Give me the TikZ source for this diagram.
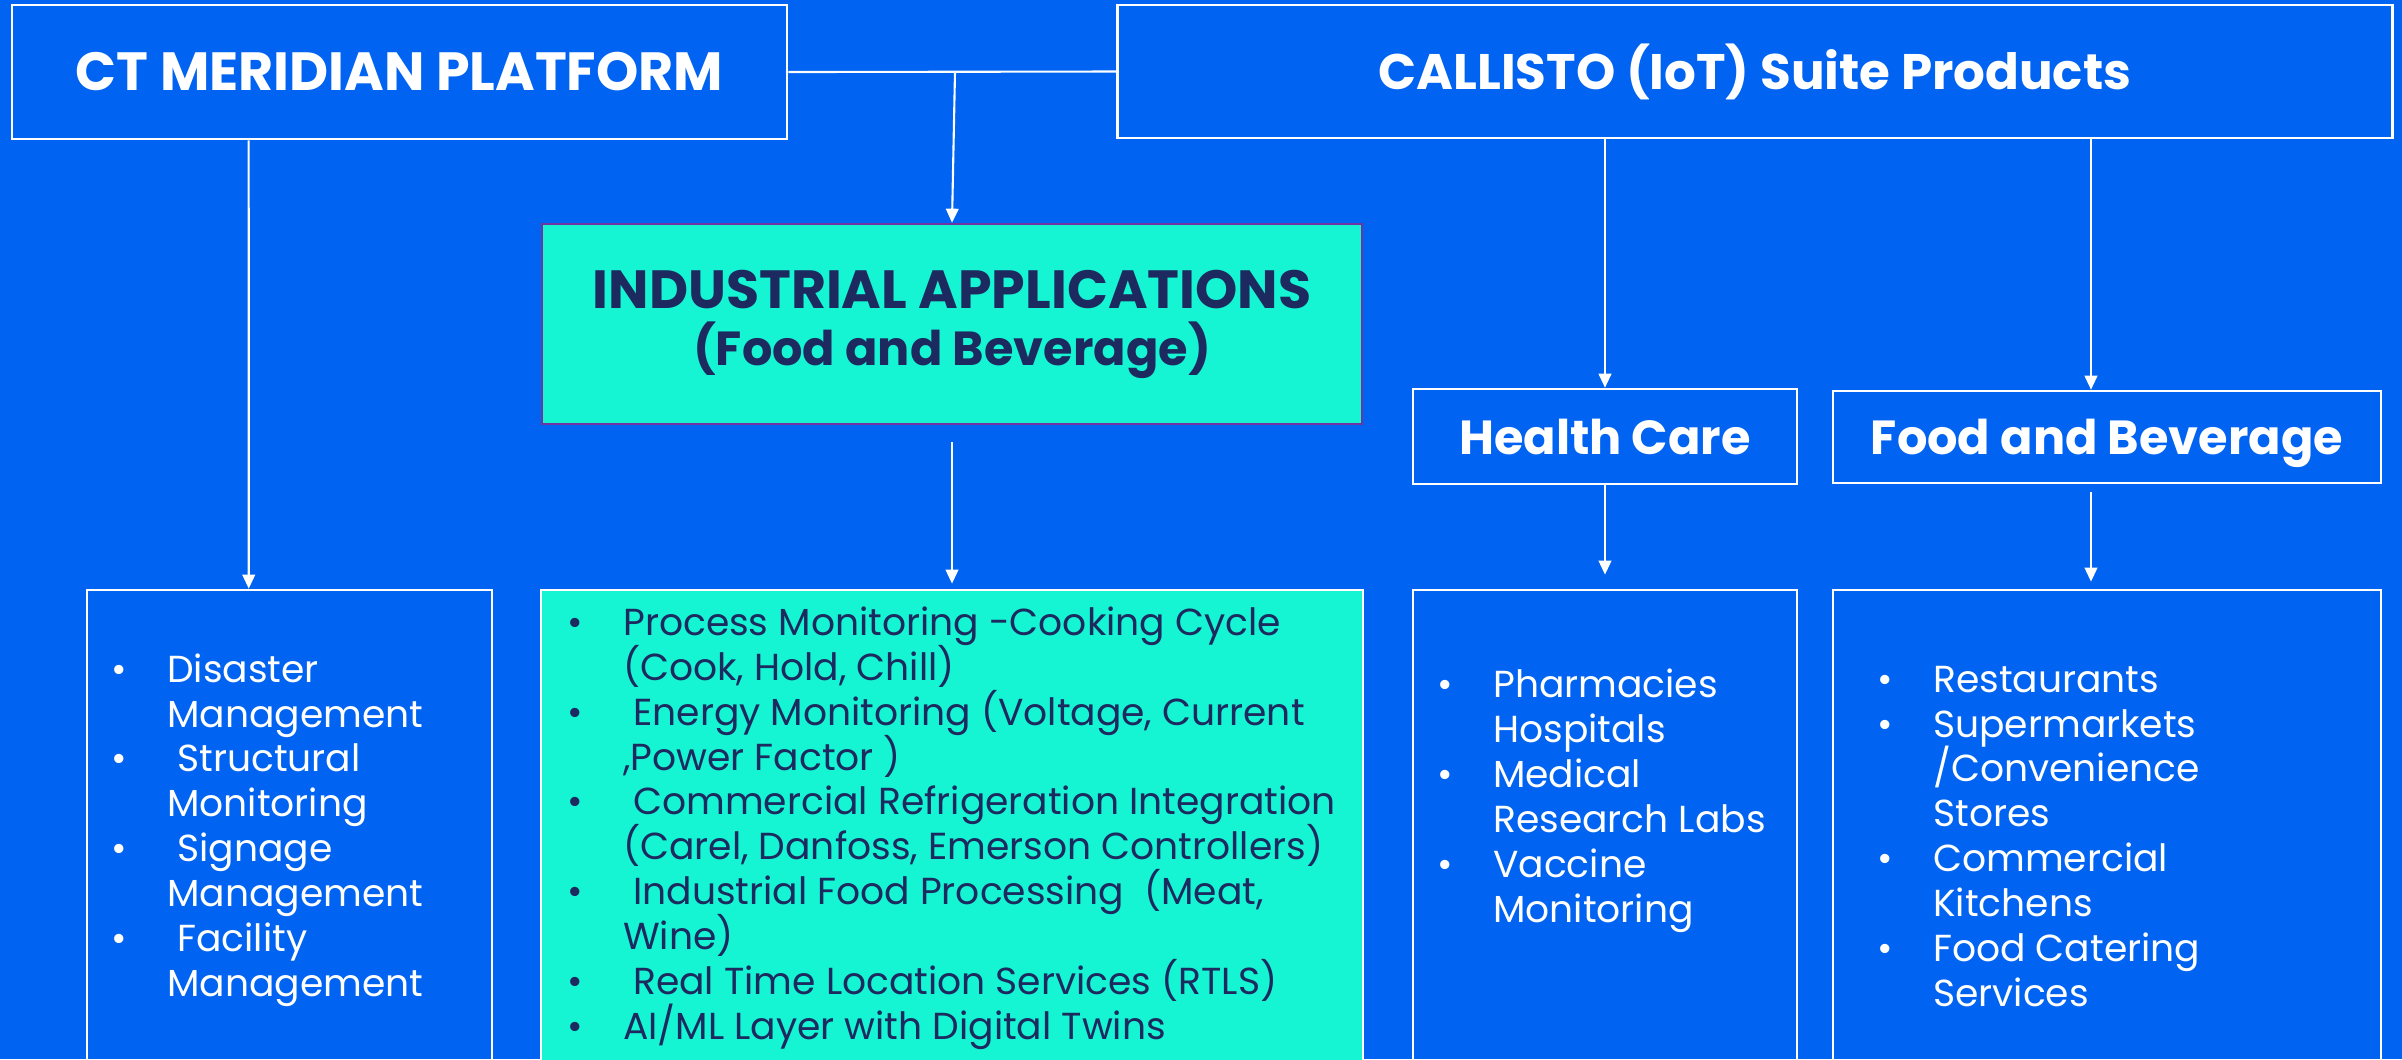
\documentclass[tikz,border=0pt]{standalone}
\usepackage{fontspec}
\setmainfont{Poppins}
\usetikzlibrary{arrows.meta}
\definecolor{brightblue}{HTML}{0063F1}
\definecolor{aqua}{HTML}{16F5D3}
\definecolor{navy}{HTML}{1D2A5F}
\definecolor{plum}{HTML}{7232A0}
\newcommand{\bul}{\makebox[0.56cm][l]{\textbullet}}
\newcommand{\indt}{\hspace*{0.56cm}}
\newcommand{\capsize}{\fontsize{15.3}{16.2}\selectfont}
\newcommand{\listfont}{\fontsize{10.7}{12.75}\selectfont\lineskiplimit-100pt\relax}

\begin{document}
\begin{tikzpicture}[x=0.01cm, y=-0.01cm, >={Triangle[length=4pt, width=3.6pt]}, line width=0.6pt]

\useasboundingbox (0,0) rectangle (2402,1059);
\clip (0,0) rectangle (2402,1059);
\fill[brightblue] (0,0) rectangle (2402,1059);

\tikzstyle{every node}=[rectangle, draw=white, line width=0.7pt, text=white, inner sep=0pt]
\tikzstyle{head}=[font=\bfseries\fontsize{13.6}{16.2}\selectfont]
\tikzstyle{items}=[draw=none, align=left, anchor=base west, font=\listfont]
\tikzstyle{link}=[draw=white, line width=0.6pt]

% top row
\draw (399.5, 72)   node[head, minimum width=7.75cm,  minimum height=1.34cm] (ct)  {\capsize CT MERIDIAN PLATFORM}
      (1755,  71.5) node[head, minimum width=12.74cm, minimum height=1.33cm,
                         font=\bfseries\fontsize{14.2}{16.2}\selectfont] (cal) {CALLISTO (IoT) Suite Products};

% middle row
\draw (952,  324)   node[head, fill=aqua, draw=plum, text=navy, align=center,
                         minimum width=8.2cm, minimum height=2cm] (ind) {{\capsize INDUSTRIAL APPLICATIONS}\\(Food and Beverage)}
      (1605, 436.5) node[head, text depth=0pt, minimum width=3.84cm, minimum height=0.95cm] (hc) {Health Care}
      (2107, 437)   node[head, text depth=0pt, minimum width=5.48cm, minimum height=0.92cm] (fb) {Food and Beverage};

% bottom row, boxes run off the page
\draw (289.5, 832.5) node[minimum width=4.05cm, minimum height=4.85cm] (ctl) {}
      (952,   832.5) node[fill=aqua, minimum width=8.22cm, minimum height=4.85cm] (indl) {}
      (1605,  832.5) node[minimum width=3.84cm, minimum height=4.85cm] (hcl) {}
      (2107,  832.5) node[minimum width=5.48cm, minimum height=4.85cm] (fbl) {};

% lists (base anchor sits on the last line)
\draw (110, 996) node[items] (ctt) {\bul Disaster\\
  \indt Management\\
  \bul\ Structural\\
  \indt Monitoring\\
  \bul\ Signage\\
  \indt Management\\
  \bul\ Facility\\
  \indt Management};

\draw (566, 1039) node[items, text=navy] (indt) {\bul Process Monitoring -Cooking Cycle\\
  \indt (Cook, Hold, Chill)\\
  \bul\ Energy Monitoring (Voltage, Current\\
  \indt ,Power Factor )\\
  \bul\ Commercial Refrigeration Integration\\
  \indt (Carel, Danfoss, Emerson Controllers)\\
  \bul\ Industrial Food Processing \ (Meat,\\
  \indt Wine)\\
  \bul\ Real Time Location Services (RTLS)\\
  \bul AI/ML Layer with Digital Twins};

\draw (1436, 922) node[items] (hct) {\bul Pharmacies\\
  \indt Hospitals\\
  \bul Medical\\
  \indt Research Labs\\
  \bul Vaccine\\
  \indt Monitoring};

\draw (1876, 1006) node[items] (fbt) {\bul Restaurants\\
  \bul Supermarkets\\
  \indt /Convenience\\
  \indt Stores\\
  \bul Commercial\\
  \indt Kitchens\\
  \bul Food Catering\\
  \indt Services};

% connectors
\coordinate (split) at (955, 72);
\draw[link] (ct.east) -- (cal.west);
\draw[link, ->] (split) -- (ind.north);
\draw[link, ->] ([xshift=2.38cm]ct.south west) -- ([xshift=1.63cm]ctl.north west);
\draw[link, ->, shorten <=0.17cm, shorten >=0.05cm] (ind.south) -- (indl.north);
\draw[link, ->] (hc.north |- cal.south) -- (hc.north);
\draw[link, ->] ([xshift=-0.16cm]fb.north |- cal.south) -- ([xshift=-0.16cm]fb.north);
\draw[link, ->, shorten >=0.14cm] (hc.south) -- (hcl.north);
\draw[link, ->, shorten <=0.08cm, shorten >=0.07cm] ([xshift=-0.16cm]fb.south) -- ([xshift=-0.16cm]fbl.north);

\end{tikzpicture}
\end{document}
